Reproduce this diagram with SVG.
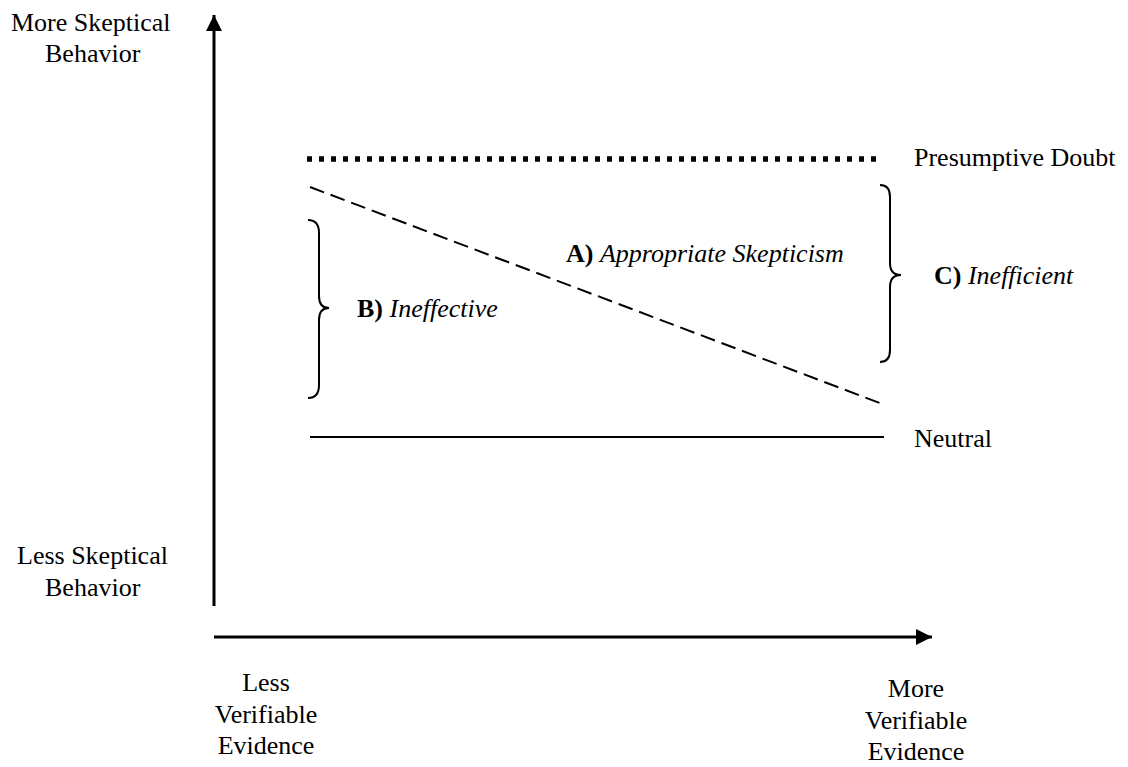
<svg xmlns="http://www.w3.org/2000/svg" width="1128" height="767" viewBox="0 0 1128 767">
<style>
text{font-family:"Liberation Serif","Times New Roman",serif;font-size:26px;fill:#000}
.b{font-weight:bold}
.i{font-style:italic}
.ax{stroke:#000;stroke-width:3;fill:none}
.ln{stroke:#000;stroke-width:2;fill:none}
</style>
<defs>
<marker id="ah" markerWidth="16" markerHeight="16" refX="16" refY="8" orient="auto" markerUnits="userSpaceOnUse">
<path d="M0,0 L16,8 L0,16 Z" fill="#000"/>
</marker>
</defs>
<rect width="1128" height="767" fill="#fff"/>
<g id="connectors">
<line class="ax" x1="214" y1="606" x2="214" y2="15" marker-end="url(#ah)"/>
<line class="ax" x1="214" y1="637" x2="932" y2="637" marker-end="url(#ah)"/>
<line id="presumptive-line" x1="307" y1="159" x2="880" y2="159" stroke="#000" stroke-width="5.5" stroke-dasharray="5,7"/>
<line id="appropriate-line" class="ln" x1="310" y1="187" x2="885" y2="405" stroke-dasharray="15,7"/>
<line id="neutral-line" class="ln" x1="310" y1="437" x2="884" y2="437"/>
<path id="brace-b" class="ln" d="M308,220 Q319,220 319,233 L319,296 Q319,308 329,308 Q319,308 319,320 L319,385 Q319,398 308,398"/>
<path id="brace-c" class="ln" d="M880,185 Q890,185 890,197 L890,263 Q890,275 901,275 Q890,275 890,287 L890,350 Q890,362 880,362"/>
</g>
<g id="y-top-label">
<text x="11" y="31">More Skeptical</text>
<text x="45" y="62">Behavior</text>
</g>
<g id="y-bottom-label">
<text x="17" y="564">Less Skeptical</text>
<text x="45" y="596">Behavior</text>
</g>
<g id="x-left-label">
<text x="266" y="691" text-anchor="middle">Less</text>
<text x="266" y="723" text-anchor="middle">Verifiable</text>
<text x="266" y="754" text-anchor="middle">Evidence</text>
</g>
<g id="x-right-label">
<text x="916" y="697" text-anchor="middle">More</text>
<text x="916" y="729" text-anchor="middle">Verifiable</text>
<text x="916" y="760" text-anchor="middle">Evidence</text>
</g>
<g id="presumptive-doubt"><text x="914" y="166">Presumptive Doubt</text></g>
<g id="neutral"><text x="914" y="447">Neutral</text></g>
<g id="label-a"><text x="566" y="262"><tspan class="b">A)</tspan> <tspan class="i">Appropriate Skepticism</tspan></text></g>
<g id="label-b"><text x="357" y="317"><tspan class="b">B)</tspan> <tspan class="i">Ineffective</tspan></text></g>
<g id="label-c"><text x="934" y="284"><tspan class="b">C)</tspan> <tspan class="i">Inefficient</tspan></text></g>
</svg>
